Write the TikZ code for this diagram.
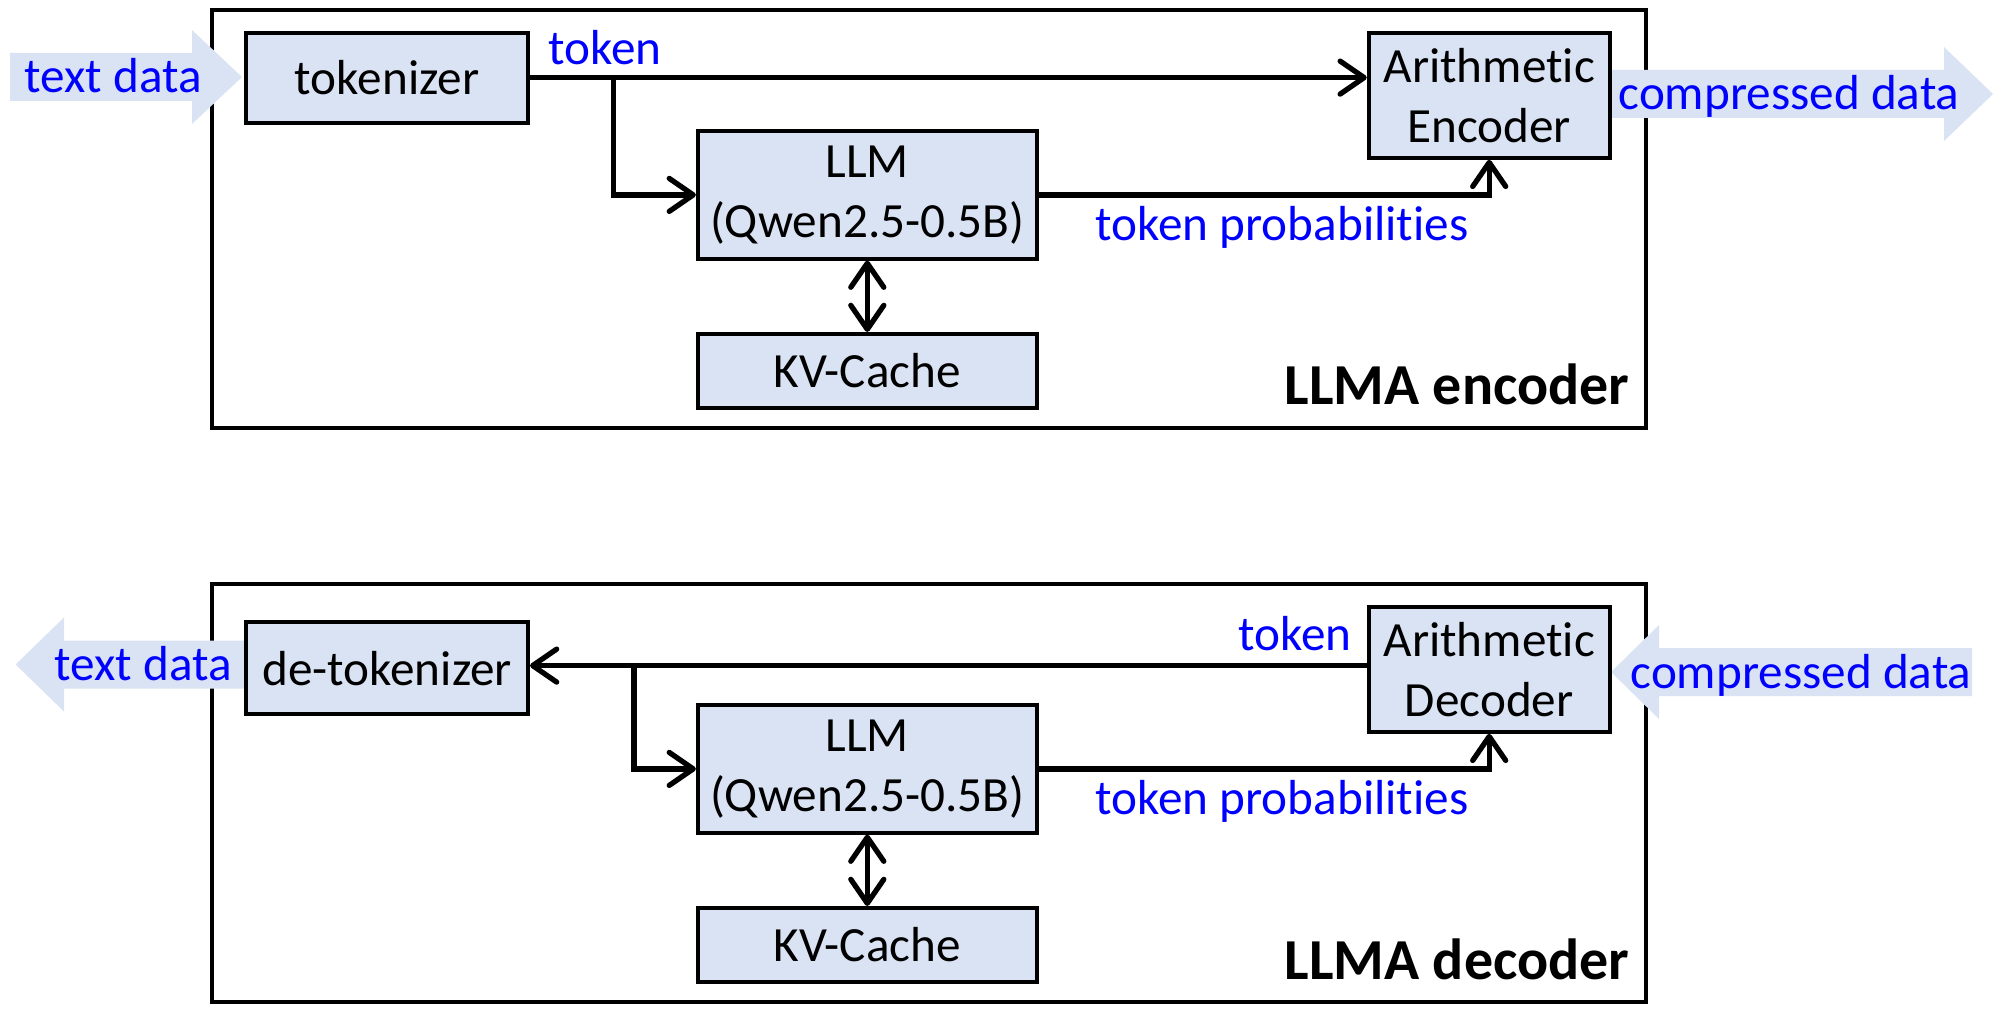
\documentclass[tikz,border=0pt]{standalone}
\usepackage{fontspec}
\setmainfont{Carlito}[Ligatures=NoCommon]
\usepackage{xcolor}
\usepackage{tikz}
\usetikzlibrary{arrows.meta}
\definecolor{boxblue}{RGB}{218,227,243}

\begin{document}
\begin{tikzpicture}[
  box/.style={draw, line width=1.1pt, fill=boxblue, inner sep=0pt,
              font=\fontsize{14}{17}\selectfont, align=center},
  frame/.style={draw, line width=1.1pt, minimum width=14.34cm,
                minimum height=4.18cm, inner sep=0pt},
  flow/.style={fill=boxblue},
  lbl/.style={text=blue, inner sep=0pt, font=\fontsize{14}{17}\selectfont},
  title/.style={inner sep=0pt, font=\fontsize{16.5}{19}\selectfont\bfseries},
  arr/.style={draw, line width=1.5pt,
              -{Straight Barb[length=2.4mm, width=3.3mm, round]}},
  darr/.style={draw, line width=1.5pt,
               {Straight Barb[length=2.4mm, width=3.3mm, round]}-{Straight Barb[length=2.4mm, width=3.3mm, round]}},
]
\useasboundingbox (0,0) rectangle (20,10.24);
% --- Frames ---
\node[frame] (enc) at (9.286, 8.049) {};
\node[frame] (dec) at (9.286, 2.309) {};
% --- Input / output flows (block arrows) ---
\fill[flow] (0.10,9.23) -- (1.92,9.23) -- (1.92,9.00) -- (2.42,9.47)
  -- (1.92,9.94) -- (1.92,9.71) -- (0.10,9.71) -- cycle;
\fill[flow] (16.10,9.06) -- (19.44,9.06) -- (19.44,8.83) -- (19.93,9.30)
  -- (19.44,9.77) -- (19.44,9.54) -- (16.10,9.54) -- cycle;
\fill[flow] (2.47,3.355) -- (0.64,3.355) -- (0.64,3.125) -- (0.156,3.595)
  -- (0.64,4.065) -- (0.64,3.835) -- (2.47,3.835) -- cycle;
\fill[flow] (19.72,3.28) -- (16.59,3.28) -- (16.59,3.05) -- (16.11,3.52)
  -- (16.59,3.99) -- (16.59,3.76) -- (19.72,3.76) -- cycle;
\node[lbl, anchor=base] (tin) at (1.13, 9.31) {text data};
\node[lbl, anchor=base] (cout) at (17.89, 9.14) {compressed data};
\node[lbl, anchor=base] (tout) at (1.43, 3.435) {text data};
\node[lbl, anchor=base] (cin) at (18.01, 3.36) {compressed data};
% --- Encoder ---
\node[box, minimum width=2.82cm, minimum height=0.9cm] (tok) at (3.871, 9.464) {tokenizer};
\node[box, minimum width=3.39cm, minimum height=1.276cm] (llm1) at (8.673, 8.291) {LLM\\(Qwen2.5-0.5B)};
\node[box, minimum width=3.39cm, minimum height=0.74cm] (kv1) at (8.673, 6.531) {KV-Cache};
\node[box, minimum width=2.41cm, minimum height=1.25cm] (ae) at (14.892, 9.286) {Arithmetic\\Encoder};
\coordinate (b1) at (6.135, 9.464);
\draw[arr] (tok.east) -- (tok.east -| ae.west);
\draw[arr] (b1) |- (llm1.west);
\draw[arr] (llm1.east) -| (ae.south);
\draw[darr] (llm1.south) -- (kv1.north);
\node[lbl] (t1) at (6.05, 9.76) {token};
\node[lbl] (p1) at (12.82, 7.97) {token probabilities};
\node[title, anchor=base east] (n1) at (16.30, 6.19) {LLMA encoder};
% --- Decoder ---
\node[box, minimum width=2.82cm, minimum height=0.92cm] (detok) at (3.871, 3.559) {de-tokenizer};
\node[box, minimum width=3.39cm, minimum height=1.276cm] (llm2) at (8.673, 2.551) {LLM\\(Qwen2.5-0.5B)};
\node[box, minimum width=3.39cm, minimum height=0.74cm] (kv2) at (8.673, 0.791) {KV-Cache};
\node[box, minimum width=2.41cm, minimum height=1.25cm] (ad) at (14.892, 3.546) {Arithmetic\\Decoder};
\coordinate (b2) at (6.339, 3.584);
\draw[arr] (ad.west |- b2) -- (detok.east |- b2);
\draw[arr] (b2) |- (llm2.west);
\draw[arr] (llm2.east) -| (ad.south);
\draw[darr] (llm2.south) -- (kv2.north);
\node[lbl] (t2) at (12.95, 3.90) {token};
\node[lbl] (p2) at (12.82, 2.23) {token probabilities};
\node[title, anchor=base east] (n2) at (16.30, 0.45) {LLMA decoder};
\end{tikzpicture}
\end{document}
